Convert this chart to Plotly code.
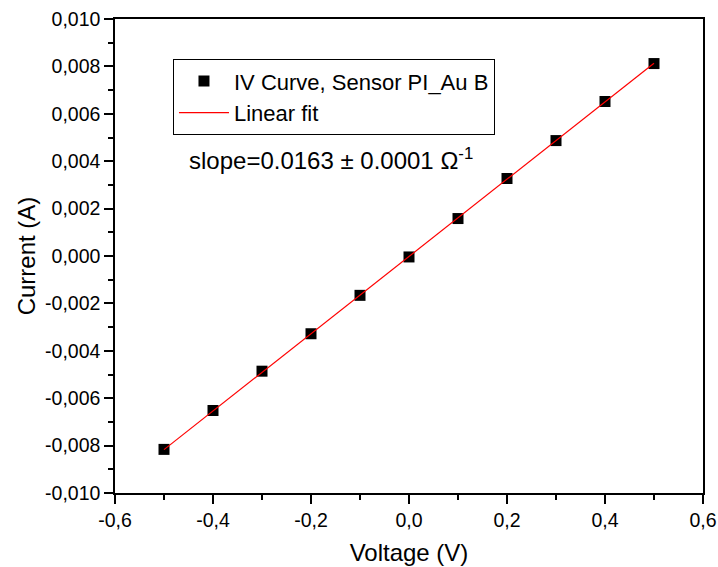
import plotly.graph_objects as go

voltage = [-0.5, -0.4, -0.3, -0.2, -0.1, 0.0, 0.1, 0.2, 0.3, 0.4, 0.5]
current = [-0.00816, -0.00652, -0.00486, -0.00328, -0.00166, -0.00004, 0.00158, 0.00327, 0.00487, 0.00652, 0.00812]
slope = 0.0163
intercept = -0.00002
fit_x = [-0.5, 0.5]
fit_y = [slope * v + intercept for v in fit_x]

x_tickvals = [-0.6, -0.4, -0.2, 0.0, 0.2, 0.4, 0.6]
x_ticktext = ["-0,6", "-0,4", "-0,2", "0,0", "0,2", "0,4", "0,6"]
y_tickvals = [-0.010, -0.008, -0.006, -0.004, -0.002, 0.0, 0.002, 0.004, 0.006, 0.008, 0.010]
y_ticktext = ["-0,010", "-0,008", "-0,006", "-0,004", "-0,002", "0,000",
              "0,002", "0,004", "0,006", "0,008", "0,010"]

font_family = "Liberation Sans, Arial, sans-serif"

fig = go.Figure()
fig.add_trace(go.Scatter(
    x=voltage, y=current, mode="markers", name="IV Curve, Sensor PI_Au B",
    marker=dict(symbol="square", size=11, color="black", line=dict(width=0)),
))
fig.add_trace(go.Scatter(
    x=fit_x, y=fit_y, mode="lines", name="Linear fit",
    line=dict(color="red", width=1.2),
))

axis_common = dict(
    showline=True, linecolor="black", linewidth=1.5, mirror=True,
    ticks="outside", ticklen=9, tickwidth=1.5, tickcolor="black",
    showgrid=False, zeroline=False, automargin=False,
    tickfont=dict(size=19.5, color="black", family=font_family),
)

fig.update_xaxes(
    range=[-0.6, 0.6], tickvals=x_tickvals, ticktext=x_ticktext,
    minor=dict(ticks="outside", dtick=0.1, ticklen=5, tickwidth=1.5, tickcolor="black", showgrid=False),
    title=dict(text="Voltage (V)", font=dict(size=24, color="black", family=font_family), standoff=14),
    **axis_common,
)
fig.update_yaxes(
    range=[-0.010, 0.010], tickvals=y_tickvals, ticktext=y_ticktext,
    minor=dict(ticks="outside", dtick=0.001, ticklen=5, tickwidth=1.5, tickcolor="black", showgrid=False),
    title=dict(text="Current (A)", font=dict(size=24, color="black", family=font_family), standoff=3),
    **axis_common,
)

fig.add_annotation(
    xref="paper", yref="paper", x=0.368, y=0.74,
    text="slope=0.0163 ± 0.0001 Ω<sup>-1</sup>", showarrow=False,
    font=dict(size=24, color="black", family=font_family),
)

fig.update_layout(
    width=718, height=567,
    margin=dict(l=115, r=15, t=19, b=74),
    paper_bgcolor="white", plot_bgcolor="white",
    font=dict(family=font_family, color="black"),
    showlegend=True,
    legend=dict(
        x=0.0986, y=0.915, xanchor="left", yanchor="top",
        bordercolor="black", borderwidth=1, bgcolor="white",
        font=dict(size=22, color="black", family=font_family),
        tracegroupgap=0, itemwidth=50,
    ),
)

fig.write_html("out.html")
